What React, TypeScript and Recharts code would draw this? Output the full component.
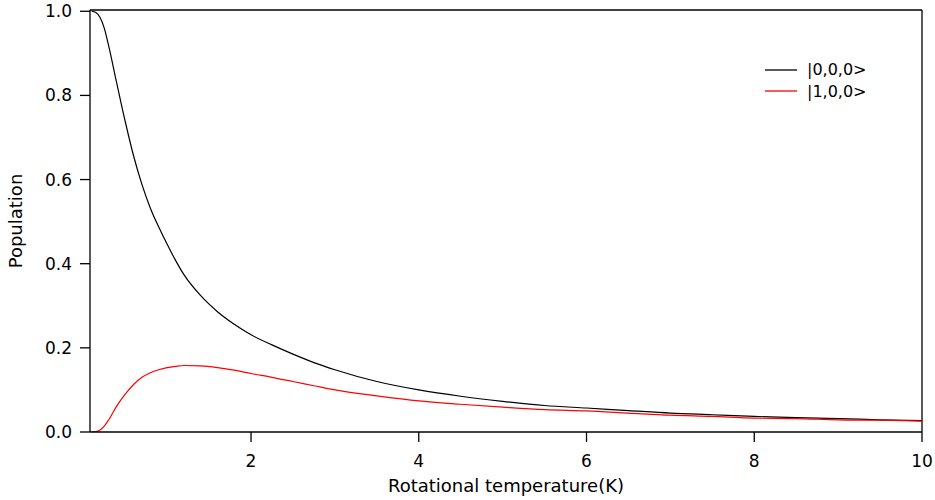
import React from 'react';
import { LineChart, Line, XAxis, YAxis, Legend, ReferenceLine } from 'recharts';

// rotational temperature (K)
const temps = [
  0.1, 0.15, 0.2, 0.25, 0.3, 0.4, 0.5, 0.6, 0.7, 0.8, 0.9, 1.0, 1.1, 1.2, 1.4, 1.6, 1.8, 2.0,
  2.25, 2.5, 2.75, 3.0, 3.5, 4.0, 4.5, 5.0, 5.5, 6.0, 6.5, 7.0, 7.5, 8.0, 8.5, 9.0, 9.5, 10.0,
];
// |0,0,0> population
const ground = [
  1.0, 0.997, 0.985, 0.96, 0.92, 0.828, 0.738, 0.656, 0.588, 0.532, 0.487, 0.446, 0.408, 0.374,
  0.324, 0.286, 0.256, 0.231, 0.207, 0.185, 0.165, 0.148, 0.12, 0.1, 0.085, 0.073, 0.063, 0.057,
  0.051, 0.045, 0.041, 0.037, 0.034, 0.032, 0.029, 0.027,
];
// |1,0,0> population
const excited = [
  0.0, 0.001, 0.005, 0.014, 0.028, 0.062, 0.09, 0.113, 0.13, 0.141, 0.148, 0.153, 0.156, 0.158,
  0.157, 0.153, 0.147, 0.139, 0.13, 0.12, 0.11, 0.1, 0.086, 0.074, 0.066, 0.059, 0.053, 0.05,
  0.045, 0.04, 0.037, 0.033, 0.032, 0.029, 0.028, 0.026,
];
const xTicks = [2, 4, 6, 8, 10];
const yTicks = [0, 0.2, 0.4, 0.6, 0.8, 1.0];
const seriesNames = ['|0,0,0>', '|1,0,0>'];

const data = temps.map((t, i) => ({ t, ground: ground[i], excited: excited[i] }));

const font = 'DejaVu Sans';
const X_MIN = 0.08;
const Y_MAX = 1.003;

const renderLegend = (props: any) => {
  const { payload } = props;
  return (
    <div style={{ fontFamily: font, fontSize: 16, color: '#000' }}>
      {payload.map((e: any) => (
        <div key={e.value} style={{ display: 'flex', alignItems: 'center', height: 21.5 }}>
          <svg width={32} height={4} style={{ display: 'block' }}>
            <line x1={0} y1={2} x2={32} y2={2} stroke={e.color} strokeWidth={1.3} />
          </svg>
          <span style={{ marginLeft: 10, lineHeight: '21.5px' }}>{e.value}</span>
        </div>
      ))}
    </div>
  );
};

const YLabel = (props: any) => {
  const { viewBox } = props;
  const cy = viewBox.y + viewBox.height / 2;
  return (
    <text x={22} y={cy} transform={`rotate(-90, 22, ${cy})`} textAnchor="middle"
      fontFamily={font} fontSize={18} fill="#000">
      Population
    </text>
  );
};

const XLabel = (props: any) => {
  const { viewBox } = props;
  const cx = viewBox.x + viewBox.width / 2;
  return (
    <text x={cx} y={492} textAnchor="middle" fontFamily={font} fontSize={18} fill="#000">
      Rotational temperature(K)
    </text>
  );
};

export default function App() {
  return (
    <div style={{ position: 'absolute', left: 0, top: 0, background: '#fff' }}>
      <LineChart width={935} height={500} data={data}
        margin={{ top: 10, right: 13, bottom: 0, left: 0 }}>
        <XAxis dataKey="t" type="number" domain={[X_MIN, 10]} ticks={xTicks} allowDataOverflow
          height={68} tickSize={10} tickMargin={13}
          axisLine={{ stroke: '#000', strokeWidth: 1.3 }} tickLine={{ stroke: '#000', strokeWidth: 1.3 }}
          tick={{ fill: '#000', fontSize: 17, fontFamily: font }}
          label={<XLabel />} />
        <YAxis type="number" domain={[0, Y_MAX]} ticks={yTicks} allowDataOverflow
          width={90} tickSize={10} tickMargin={8}
          tickFormatter={(v: number) => v.toFixed(1)}
          axisLine={{ stroke: '#000', strokeWidth: 1.3 }} tickLine={{ stroke: '#000', strokeWidth: 1.3 }}
          tick={{ fill: '#000', fontSize: 17, fontFamily: font }}
          label={<YLabel />} />
        <ReferenceLine y={Y_MAX} stroke="#000" strokeWidth={1.3} />
        <ReferenceLine x={10} stroke="#000" strokeWidth={1.3} />
        <Legend layout="horizontal" verticalAlign="middle" width={120}
          wrapperStyle={{ top: 59, left: 765 }} content={renderLegend} />
        <Line type="monotone" dataKey="ground" name={seriesNames[0]} stroke="#000000"
          strokeWidth={1.2} dot={false} isAnimationActive={false} />
        <Line type="monotone" dataKey="excited" name={seriesNames[1]} stroke="#ff0000"
          strokeWidth={1.2} dot={false} isAnimationActive={false} />
      </LineChart>
    </div>
  );
}
